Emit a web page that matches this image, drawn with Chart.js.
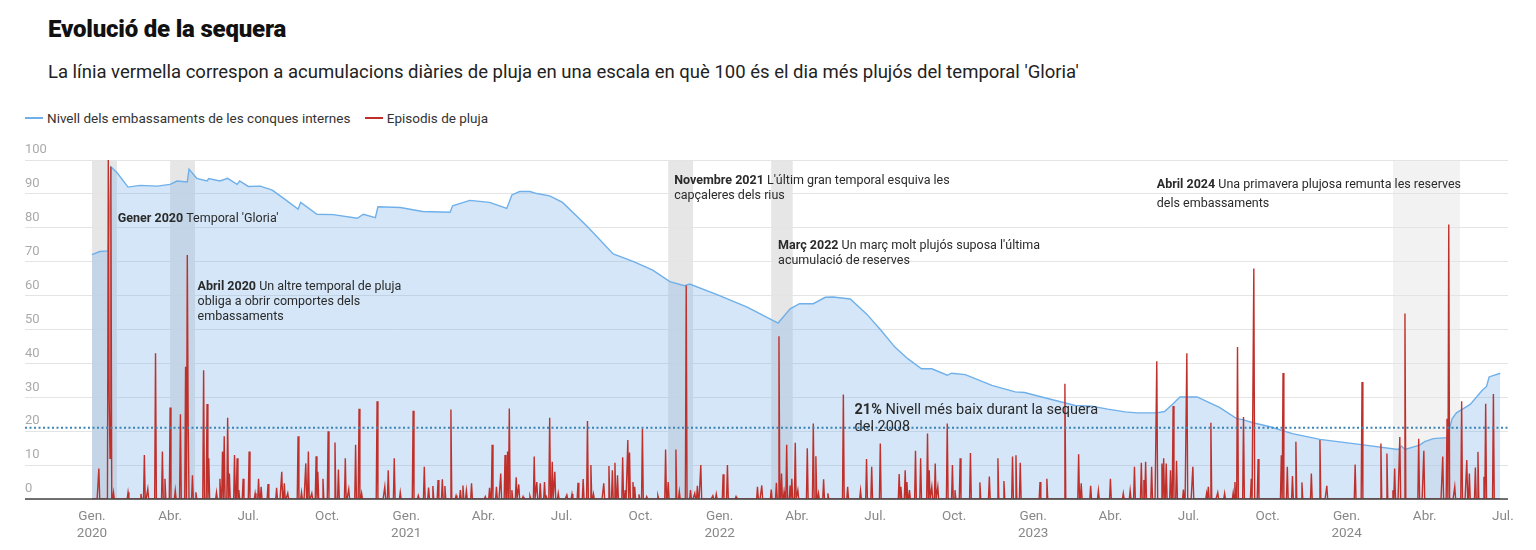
<!DOCTYPE html>
<html>
<head>
<meta charset="utf-8">
<script src="https://cdn.jsdelivr.net/npm/chart.js@4.4.1/dist/chart.umd.min.js"></script>
<style>
  body { margin: 0; background: #fff; font-family: Roboto, sans-serif; color: #222; }
  #title { position: absolute; left: 48px; top: 15px; font-size: 24px; font-weight: 900; color: #111; letter-spacing: -0.2px; }
  #subtitle { position: absolute; left: 48px; top: 61px; font-size: 18.5px; color: #222; }
  #legend { position: absolute; left: 25px; top: 110px; font-size: 13.5px; color: #333; }
  #legend span.sw { display: inline-block; width: 18px; height: 2px; vertical-align: 4px; margin-right: 4px; }
  #legend span.item { margin-right: 11px; }
  #wrap { position: absolute; left: 0; top: 100px; width: 1536px; height: 450px; }
</style>
</head>
<body>
<div id="title">Evolució de la sequera</div>
<div id="subtitle">La línia vermella correspon a acumulacions diàries de pluja en una escala en què 100 és el dia més plujós del temporal ′Gloria′</div>
<div id="legend">
  <span class="item"><span class="sw" style="background-color:#6fb0ea"></span>Nivell dels embassaments de les conques internes</span>
  <span class="item"><span class="sw" style="background-color:#c0302b"></span>Episodis de pluja</span>
</div>
<div id="wrap"><canvas id="myChart" width="1536" height="450"></canvas></div>

<script>
// dies comptats des de l'1 de gener de 2020
const levelDays = [
  0, 9, 19, 22, 29, 42, 56, 76, 91, 99,
  111, 113, 122, 134, 136, 149, 158, 169, 172, 182,
  196, 210, 222, 240, 243, 262, 281, 309, 316, 330,
  333, 359, 385, 417, 420, 440, 463, 483, 489, 498,
  510, 518, 533, 548, 576, 607, 630, 642, 653, 673,
  690, 696, 728, 763, 799, 813, 824, 840, 854, 863,
  883, 902, 919, 935, 950, 966, 978, 996, 1001, 1017,
  1048, 1075, 1086, 1106, 1129, 1145, 1164, 1183, 1203, 1217,
  1240, 1249, 1259, 1267, 1287, 1298, 1313, 1333, 1340, 1352,
  1372, 1398, 1430, 1476, 1521, 1525, 1529, 1546, 1552, 1562,
  1578, 1584, 1589, 1605, 1619, 1624, 1627, 1640
];
const levelValues = [
  72.1, 73, 73.2, 98, 96.3, 92, 92.5, 92.3, 92.8, 93.8,
  93.5, 97.3, 94.6, 93.8, 94.5, 93.8, 94.6, 92.8, 93.8, 92.2,
  92.3, 91.1, 88.9, 85.5, 87.5, 84, 83.9, 82.8, 84, 83,
  86.2, 86, 84.8, 84.6, 86.5, 88.1, 87.5, 85.7, 89.7, 90.7,
  90.7, 90.1, 89.4, 87.5, 80.6, 72.3, 70.1, 68.8, 67.5, 64.1,
  62.9, 63.4, 60.3, 56.6, 51.9, 56.1, 57.6, 57.6, 59.5, 59.6,
  59, 54.6, 49.7, 44.8, 41.4, 38.4, 38.4, 36.5, 37.1, 36.7,
  33.5, 31.6, 31.4, 30.1, 28.6, 27.6, 27.4, 26.5, 25.7, 25.4,
  25.4, 25.8, 28.1, 30.1, 30.1, 28.8, 27, 23.7, 23.4, 22.5,
  21.3, 19.3, 17.6, 16.1, 14.6, 15.6, 14.6, 15.9, 16.9, 17.8,
  18.1, 23.7, 25.4, 27.9, 32.1, 33.2, 36, 37.1
];

// [dia, pluja] - els dies que no surten son 0
const rainEpisodes = [
  [8,9],[19,100],[20,30],[21,12],[22,98],[25,2],[42,2],[57,1.5],[61,13],[65,3],
  [74,43],[82,14],[85,6],[91,27],[97,2.5],[103,25],[109,39],[111,72],[112,23],[117,7],
  [121,2],[130,38],[134,28],[136,12],[145,2],[149,6],[152,14],[154,18.5],[158,24],[160,7.5],
  [166,13],[169,12],[171,2.6],[176,6],[183,14],[190,1.7],[194,6],[197,3.6],[205,4.4],[215,3.3],
  [221,8],[224,4.6],[228,1.7],[240,18.5],[244,2],[249,10.5],[252,14],[256,1.7],[261,12.6],[263,8],
  [269,6],[275,20],[283,16.7],[287,8.7],[295,12],[299,2.9],[307,16],[311,26.6],[314,1.7],[332,28.8],
  [341,3.6],[345,8.5],[352,12],[359,2],[374,26],[380,1],[387,9.5],[392,3.4],[397,3.8],[403,5.6],
  [408,5.8],[411,3.8],[418,26.4],[424,1],[429,2.6],[432,4],[436,2.5],[442,4.6],[458,0.7],[463,3.3],
  [466,16],[471,3.6],[476,7.5],[481,13],[484,14],[486,26.7],[489,2.6],[494,6.4],[497,4.3],[502,0.7],
  [510,0.9],[515,12.5],[518,5],[522,4.6],[527,5],[529,0.7],[533,24],[536,11],[539,8],[543,1.7],
  [553,1.2],[559,1.5],[566,4.8],[572,5.9],[577,23],[581,10],[584,1.5],[596,4.6],[602,9.7],[606,8.5],
  [609,10.7],[612,7],[618,12.3],[621,2.6],[624,17.4],[626,13.7],[630,5],[632,3.6],[637,1.4],[641,20.7],
  [646,0.7],[659,1],[668,14.6],[671,5],[680,14.6],[684,2.2],[692,63],[697,2.6],[702,1.7],[705,3.9],
  [709,10],[723,1],[727,1.5],[735,7.3],[740,10],[750,0.7],[775,3.6],[780,4],[791,2.8],[797,4.8],
  [800,48],[803,7.5],[806,2.2],[809,16],[813,4],[815,6],[819,16.6],[822,2.6],[833,15],[840,22.3],
  [843,12.6],[846,1.7],[852,5.8],[857,1.7],[875,30.8],[880,3.6],[895,2.5],[902,11.8],[908,9.5],[918,16.4],
  [940,7.4],[942,3.6],[947,8.5],[949,5],[952,2.6],[959,14.2],[965,12],[973,19.3],[975,8.5],[978,3.6],
  [982,10.5],[985,3.6],[996,22.3],[1002,10],[1005,2.6],[1011,12],[1023,13.6],[1034,4.9],[1045,6.6],[1055,12],
  [1062,5.3],[1072,12.5],[1076,12.9],[1081,10.7],[1104,5],[1112,6],[1133,34],[1149,13.2],[1152,4.6],[1163,3.9],
  [1172,2.5],[1186,6],[1201,1.7],[1209,2.5],[1214,9.5],[1222,10.7],[1225,5.6],[1227,11],[1234,9.5],[1240,40.6],
  [1246,10.5],[1248,12],[1251,10.5],[1256,8.5],[1259,27.4],[1263,11.3],[1271,2.8],[1275,43],[1282,9.5],[1298,1.7],
  [1300,3.6],[1303,22.5],[1311,1.9],[1319,1.7],[1329,1.9],[1331,5],[1334,44.8],[1341,24.2],[1350,6],[1353,68],
  [1358,11.8],[1385,12.9],[1387,37.2],[1392,9.5],[1398,6.8],[1402,16.9],[1409,4.9],[1420,7.5],[1430,17.4],[1438,3.9],
  [1471,10.2],[1479,34.5],[1501,16.4],[1508,13.4],[1515,2.6],[1517,9],[1523,18.3],[1529,54.7],[1545,17.8],[1551,14.2],
  [1573,12.5],[1578,23.7],[1580,81],[1587,3.6],[1595,28.8],[1601,11.5],[1604,7.5],[1611,9.3],[1614,13.9],[1621,6.6],
  [1623,28.1],[1632,31]
];
const lastRainDay = 1640;

// ticks de l'eix x (primer dia de cada trimestre)
const quarterDays = [0, 91, 182, 274, 366, 456, 547, 639, 731, 821, 912, 1004, 1096, 1186, 1277, 1369, 1461, 1552, 1643];
const quarterLabels = [
  ['Gen.', '2020'], 'Abr.', 'Jul.', 'Oct.',
  ['Gen.', '2021'], 'Abr.', 'Jul.', 'Oct.',
  ['Gen.', '2022'], 'Abr.', 'Jul.', 'Oct.',
  ['Gen.', '2023'], 'Abr.', 'Jul.', 'Oct.',
  ['Gen.', '2024'], 'Abr.', 'Jul.'
];

// franges grises [inici, final] en dies
const bandStarts = [0, 91, 671, 791, 1515];
const bandEnds = [29, 120, 700, 816, 1593];
const bandColors = ['#e6e6e6', '#e6e6e6', '#e6e6e6', '#e6e6e6', '#f2f2f2'];

const nivell2008 = 21;

// anotacions
const notes = [
  { day: 30, value: 82.6, bold: 'Gener 2020', lines: ["Temporal 'Gloria'"], lh: 15 },
  { day: 123, value: 62.6, bold: 'Abril 2020', lines: ['Un altre temporal de pluja', 'obliga a obrir comportes dels', 'embassaments'], lh: 15 },
  { day: 678, value: 93.8, bold: 'Novembre 2021', lines: ["L'últim gran temporal esquiva les", 'capçaleres dels rius'], lh: 15 },
  { day: 799, value: 74.6, bold: 'Març 2022', lines: ["Un març molt plujós suposa l'última", 'acumulació de reserves'], lh: 15 },
  { day: 1240, value: 92.6, bold: 'Abril 2024', lines: ['Una primavera plujosa remunta les reserves', 'dels embassaments'], lh: 19 },
  { day: 888, value: 26.2, bold: '21%', lines: ['Nivell més baix durant la sequera', 'del 2008'], lh: 17, size: 14.5 }
];

const levelPoints = levelDays.map((d, i) => ({ x: d, y: levelValues[i] }));
const rainByDay = new Map(rainEpisodes);
const rainPoints = [];
for (let d = 0; d <= lastRainDay; d++) {
  rainPoints.push({ x: d, y: rainByDay.get(d) || 0 });
}

const bandsPlugin = {
  id: 'bands',
  beforeDraw(chart) {
    const { ctx, scales: { x, y } } = chart;
    const top = y.getPixelForValue(100), bottom = y.getPixelForValue(0);
    ctx.save();
    bandStarts.forEach((s, i) => {
      const x0 = x.getPixelForValue(s), x1 = x.getPixelForValue(bandEnds[i]);
      ctx.fillStyle = bandColors[i];
      ctx.fillRect(x0, top, x1 - x0, bottom - top);
    });
    ctx.restore();
  }
};

const extrasPlugin = {
  id: 'extras',
  afterDatasetsDraw(chart) {
    const { ctx, chartArea, scales: { x, y } } = chart;
    ctx.save();
    // línia del 2008
    const yl = y.getPixelForValue(nivell2008);
    ctx.strokeStyle = '#3b84b4';
    ctx.lineWidth = 2;
    ctx.setLineDash([2, 2.5]);
    ctx.beginPath();
    ctx.moveTo(chartArea.left, yl);
    ctx.lineTo(chartArea.right, yl);
    ctx.stroke();
    ctx.setLineDash([]);
    // línia base
    const y0 = y.getPixelForValue(0);
    ctx.strokeStyle = '#444';
    ctx.lineWidth = 1.5;
    ctx.beginPath();
    ctx.moveTo(chartArea.left, y0);
    ctx.lineTo(chartArea.right, y0);
    ctx.stroke();
    // textos
    ctx.textBaseline = 'middle';
    ctx.textAlign = 'left';
    ctx.fillStyle = '#2a2a2a';
    notes.forEach(n => {
      const size = n.size || 12.5;
      const px = x.getPixelForValue(n.day);
      let py = y.getPixelForValue(n.value);
      ctx.font = 'bold ' + size + 'px Roboto';
      ctx.fillText(n.bold, px, py);
      const w = ctx.measureText(n.bold + ' ').width;
      ctx.font = size + 'px Roboto';
      n.lines.forEach((l, i) => {
        ctx.fillText(l, i === 0 ? px + w : px, py);
        py += n.lh;
      });
    });
    ctx.restore();
  }
};

const ctx = document.getElementById('myChart').getContext('2d');
const myChart = new Chart(ctx, {
  type: 'line',
  data: {
    datasets: [
      {
        label: 'Nivell dels embassaments de les conques internes',
        data: levelPoints,
        borderColor: '#6fb0ea',
        backgroundColor: 'rgba(120, 177, 230, 0.32)',
        borderWidth: 1.4,
        fill: 'origin',
        pointRadius: 0,
        tension: 0,
        order: 2
      },
      {
        label: 'Episodis de pluja',
        data: rainPoints,
        borderColor: '#c0302b',
        borderWidth: 1.4,
        fill: false,
        pointRadius: 0,
        tension: 0,
        order: 1
      }
    ]
  },
  options: {
    responsive: false,
    animation: false,
    layout: { padding: { left: 25, right: 28, top: 60, bottom: 11 } },
    plugins: { legend: { display: false }, tooltip: { enabled: false } },
    scales: {
      x: {
        type: 'linear',
        min: -78,
        max: 1649,
        grid: { display: false },
        border: { display: false },
        afterBuildTicks(scale) {
          scale.ticks = quarterDays.map(v => ({ value: v }));
        },
        afterFit(scale) { scale.height = 40; },
        ticks: {
          autoSkip: false,
          maxRotation: 0,
          minRotation: 0,
          padding: 2,
          color: '#888',
          font: { family: 'Roboto', size: 13.5, lineHeight: 1.2 },
          callback: (v, i) => quarterLabels[i]
        }
      },
      y: {
        min: 0,
        max: 100,
        grid: { color: '#e4e4e4', lineWidth: 1, drawTicks: false },
        border: { display: false },
        ticks: {
          stepSize: 10,
          mirror: true,
          padding: 0,
          labelOffset: -10,
          color: '#aaa',
          font: { family: 'Roboto', size: 13 }
        }
      }
    }
  },
  plugins: [bandsPlugin, extrasPlugin]
});
</script>
</body>
</html>
